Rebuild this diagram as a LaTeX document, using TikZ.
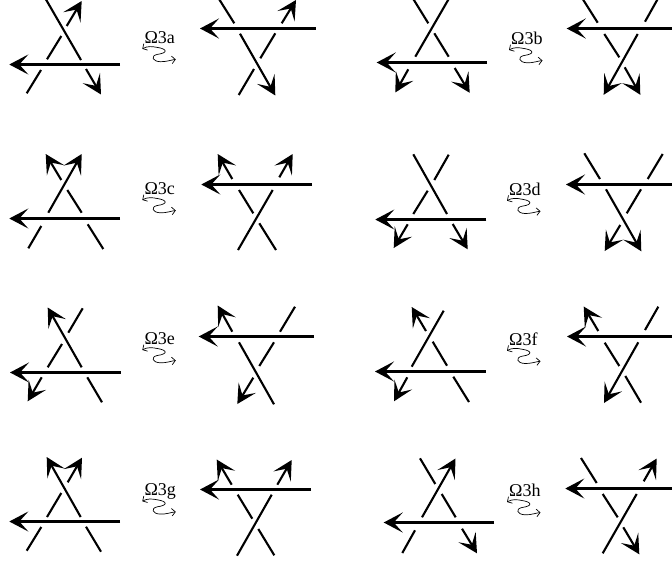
\documentclass[tikz,border=0pt]{standalone}
\usepackage{fontspec}
\setmainfont{Liberation Serif}
\usetikzlibrary{arrows.meta}
\tikzset{
  strand/.style={line width=2.1pt,black},
  over/.style={line width=2.7pt,black},
  tipped/.style={-{Stealth[length=19pt,width=20pt,inset=9pt]}},
  wave/.style={line width=0.7pt,black,{Straight Barb[length=3.5pt,width=7.5pt]}-{Straight Barb[length=3.5pt,width=7.5pt]}},
  moveName/.style={anchor=base west,inner sep=0pt,font=\fontsize{18}{18}\selectfont,text=black}
}
\newcommand{\movelabel}[4]{%
  \node[moveName] (#1) at (#2+2,#3-5.4) {#4};
  \draw[wave] (#2,#3) .. controls (#2+5,#3-3) and (#2+10,#3-2.5) .. (#2+15,#3-1.5)
    .. controls (#2+25,#3+0) and (#2+26,#3+4) .. (#2+15,#3+5.5)
    .. controls (#2+8,#3+7) and (#2+10,#3+12.5) .. (#2+18,#3+12.8)
    .. controls (#2+24,#3+13) and (#2+29,#3+11) .. (#2+33.5,#3+10.5);
}
\begin{document}
\begin{tikzpicture}[x=1pt,y=-1pt]
\useasboundingbox[fill=white] (0,0) rectangle (672,563);
% a left
\draw[over,tipped] (120,64.5) -- (9.3,64.5);
\draw[strand] (45.7,-1) -- (81,60);
\draw[strand,tipped] (86,69) -- (101,94.5);
\draw[strand] (26.7,93.3) -- (41,70);
\draw[strand] (47,59.3) -- (61.3,36);
\draw[strand,tipped] (66.7,26) -- (81.7,1);
% a right
\draw[over,tipped] (315.7,28.5) -- (200,28.5);
\draw[strand] (219,-1) -- (234.3,23.3);
\draw[strand,tipped] (240,33.7) -- (275.3,95.5);
\draw[strand] (238.7,95) -- (254,69);
\draw[strand] (260.3,58.3) -- (275.3,33.3);
\draw[strand,tipped] (281.7,23.3) -- (296,0);
\movelabel{la}{142.3}{48.9}{Ω3a}
% b left
\draw[over,tipped] (487,62.5) -- (376.7,62.5);
\draw[strand] (413.3,-1) -- (428.3,23.3);
\draw[strand] (434.3,33.3) -- (448.7,56.7);
\draw[strand,tipped] (454.7,68) -- (469.7,92.8);
\draw[strand] (448.7,-1) -- (415.3,56.7);
\draw[strand,tipped] (408.3,69.3) -- (395.3,92.5);
% b right
\draw[over,tipped] (673,28.5) -- (566.7,28.5);
\draw[strand] (582.7,-1) -- (597.7,22.7);
\draw[strand] (604.3,34) -- (619.3,57.3);
\draw[strand,tipped] (624.7,67.3) -- (640.3,94.8);
\draw[strand] (657.7,-1) -- (645,21.7);
\draw[strand,tipped] (637.7,34) -- (603.7,94.8);
\movelabel{lb}{509}{50}{Ω3b}
% c left
\draw[over,tipped] (120,218.5) -- (9.3,218.5);
\draw[strand] (28.3,248.3) -- (41.3,226);
\draw[strand,tipped] (48.3,212.7) -- (81.7,154);
\draw[strand] (103.3,249) -- (87.7,224.3);
\draw[strand] (81.7,212.7) -- (67.3,190);
\draw[strand,tipped] (61.3,180) -- (45.7,154);
% c right
\draw[over,tipped] (312,184.5) -- (201.3,184.5);
\draw[strand] (276,250) -- (259.3,223.3);
\draw[strand] (253.3,213.3) -- (239,190);
\draw[strand,tipped] (232.3,179) -- (217.7,154);
\draw[strand] (238,250) -- (272.7,190);
\draw[strand,tipped] (279.3,177.3) -- (292.7,154);
\movelabel{lc}{142.3}{200}{Ω3c}
% d left
\draw[over,tipped] (486.3,219.5) -- (375.3,219.5);
\draw[strand] (413.3,154.3) -- (447,214);
\draw[strand,tipped] (452.7,224) -- (467.7,249.3);
\draw[strand] (448.7,154.7) -- (434.3,180);
\draw[strand] (427.7,190.7) -- (413.3,214);
\draw[strand,tipped] (407.7,224.3) -- (393.7,248);
% d right
\draw[over,tipped] (673,184.5) -- (566,184.5);
\draw[strand] (584.3,153.3) -- (600,179);
\draw[strand,tipped] (606,189.3) -- (641.3,251.3);
\draw[strand] (662.7,154) -- (647.7,179);
\draw[strand] (641,189.3) -- (626.7,213.3);
\draw[strand,tipped] (620.3,225) -- (604.7,251);
\movelabel{ld}{507}{200.7}{Ω3d}
% e left
\draw[over,tipped] (120.7,372.5) -- (10,372.5);
\draw[strand] (102,402.3) -- (87.3,377.3);
\draw[strand,tipped] (81.7,367.3) -- (47.7,307.5);
\draw[strand] (82.7,308.3) -- (68.3,332.7);
\draw[strand] (62,344) -- (47.7,367.3);
\draw[strand,tipped] (41.7,377.3) -- (27.7,401.3);
% e right
\draw[over,tipped] (314,336.5) -- (198.7,336.5);
\draw[strand] (295,306.7) -- (280,331.7);
\draw[strand] (274,342.3) -- (259.3,366);
\draw[strand,tipped] (253.3,377.7) -- (237.3,404);
\draw[strand] (274,404.3) -- (239,342.3);
\draw[strand,tipped] (232.3,331.7) -- (217.7,305.5);
\movelabel{le}{142.3}{350}{Ω3e}
% f left
\draw[over,tipped] (485.7,371.5) -- (375,371.5);
\draw[strand] (469,402) -- (453.3,376.7);
\draw[strand] (447,365.7) -- (432.7,341.7);
\draw[strand,tipped] (426,331) -- (411.7,307);
\draw[strand] (443.7,310.7) -- (411.7,366.7);
\draw[strand,tipped] (407.3,377.3) -- (394,401.3);
% f right
\draw[over,tipped] (673,336.5) -- (567,336.5);
\draw[strand] (658.3,306.7) -- (645,330);
\draw[strand,tipped] (638.3,342.3) -- (604,403);
\draw[strand] (641,402.7) -- (625.3,376);
\draw[strand] (619.3,366) -- (604.7,342.7);
\draw[strand,tipped] (598.3,331) -- (583.7,306.5);
\movelabel{lf}{507}{350.7}{Ω3f}
% g left
\draw[over,tipped] (120,521.5) -- (9.3,521.5);
\draw[strand] (101,551.7) -- (86,526.7);
\draw[strand,tipped] (80.7,517) -- (46.7,457);
\draw[strand] (26.7,550.7) -- (41.3,527);
\draw[strand] (47,517) -- (61.3,493);
\draw[strand,tipped] (67.7,482.3) -- (82,457.7);
% g right
\draw[over,tipped] (311,489.5) -- (200,489.5);
\draw[strand] (274.3,555.3) -- (258.3,529);
\draw[strand] (252.3,518.7) -- (237.7,494.7);
\draw[strand,tipped] (231.7,484.7) -- (216.7,459.5);
\draw[strand] (237,555.7) -- (271.7,494.7);
\draw[strand,tipped] (277.3,484.7) -- (291.7,460);
\movelabel{lg}{142.3}{501.3}{Ω3g}
% h left
\draw[over,tipped] (494,522.5) -- (383.7,522.5);
\draw[strand] (420,458.3) -- (435.3,484);
\draw[strand] (441.7,494) -- (455.7,517.3);
\draw[strand,tipped] (462,528.7) -- (477,553.3);
\draw[strand,tipped] (422,517.3) -- (455.5,458.5);
\draw[strand] (415,530.3) -- (402.3,553);
% h right
\draw[over,tipped] (673,488.5) -- (565.3,488.5);
\draw[strand] (581,458) -- (596.7,483);
\draw[strand] (602.7,494) -- (617.7,517.3);
\draw[strand,tipped] (623.3,527.3) -- (639.3,554.3);
\draw[strand] (602.7,553.3) -- (636.7,494);
\draw[strand,tipped] (643.7,481.3) -- (656.7,458.5);
\movelabel{lh}{507}{502}{Ω3h}
\end{tikzpicture}
\end{document}
